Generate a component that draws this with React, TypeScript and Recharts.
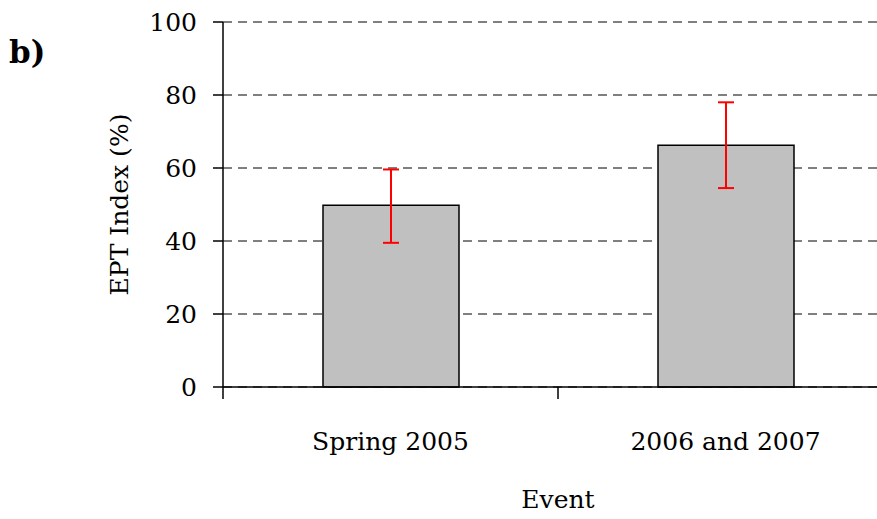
import React from "react";
import {
  BarChart,
  Bar,
  XAxis,
  YAxis,
  CartesianGrid,
  ErrorBar,
  Label,
} from "recharts";

const categories = ["Spring 2005", "2006 and 2007"];
const eptMean = [49.8, 66.2];
const eptLow = [39.5, 54.5];
const eptHigh = [59.6, 78.0];
const yTicks = [0, 20, 40, 60, 80, 100];

const data = categories.map((name, i) => ({
  name,
  ept: eptMean[i],
  err: [eptMean[i] - eptLow[i], eptHigh[i] - eptMean[i]],
}));

const FONT = "DejaVu Serif";

// category tick: label at band centre, tick mark at band edge
const EventTick = (props: any) => {
  const { x, y, payload } = props;
  const axisY = y; // tickSize 0, tickMargin 0
  const edge = x - (payload.offset || 0);
  return (
    <g>
      <line x1={edge} y1={axisY} x2={edge} y2={axisY + 12} stroke="#000" strokeWidth={1.5} />
      <text
        x={x}
        y={axisY + 63}
        textAnchor="middle"
        fontFamily={FONT}
        fontSize={25}
        fill="#000"
      >
        {payload.value}
      </text>
    </g>
  );
};

const App = () => {
  return (
    <div
      style={{
        position: "absolute",
        left: 0,
        top: 0,
        width: 877,
        height: 519,
        overflow: "hidden",
        background: "#fff",
      }}
    >
      <BarChart
        width={900}
        height={519}
        data={data}
        margin={{ top: 22, right: 7, bottom: 0, left: 0 }}
      >
        <CartesianGrid
          vertical={false}
          horizontal={{ stroke: "#000", strokeOpacity: 1, strokeWidth: 1.3 }}
          stroke="#000"
          strokeDasharray="9 6"
        />
        <XAxis
          dataKey="name"
          height={132}
          tickLine={false}
          tickSize={0}
          tickMargin={0}
          tick={<EventTick />}
          axisLine={{ stroke: "#000", strokeWidth: 1.5 }}
        >
          <Label
            value="Event"
            position="insideBottom"
            offset={11}
            style={{ fontFamily: FONT, fontSize: 25, fill: "#000" }}
          />
        </XAxis>
        <YAxis
          width={223}
          domain={[0, 100]}
          ticks={yTicks}
          tickSize={10}
          tickMargin={16}
          tick={{ fontFamily: FONT, fontSize: 25, fill: "#000" }}
          tickLine={{ stroke: "#000", strokeWidth: 1.5 }}
          axisLine={{ stroke: "#000", strokeWidth: 1.5 }}
        >
          <Label
            value="EPT Index (%)"
            angle={-90}
            position="center"
            dx={8}
            style={{ fontFamily: FONT, fontSize: 25, fill: "#000", textAnchor: "middle" }}
          />
        </YAxis>
        <Bar
          dataKey="ept"
          fill="#c0c0c0"
          stroke="#000"
          strokeWidth={1.5}
          barSize={136}
          isAnimationActive={false}
        >
          <ErrorBar dataKey="err" direction="y" width={8} stroke="#ff0000" strokeWidth={2} />
        </Bar>
      </BarChart>
      <svg
        width={80}
        height={80}
        style={{ position: "absolute", left: 0, top: 0 }}
      >
        <text x={9} y={63} fontFamily={FONT} fontWeight="bold" fontSize={31} fill="#000">
          b)
        </text>
      </svg>
    </div>
  );
};

export default App;
